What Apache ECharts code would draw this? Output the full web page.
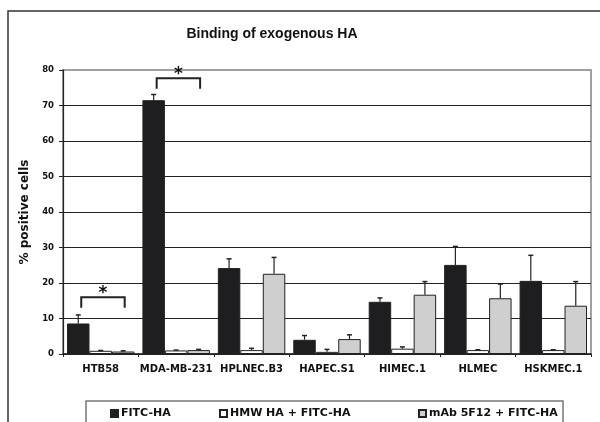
<!DOCTYPE html>
<html>
<head>
<meta charset="utf-8">
<script src="https://cdn.jsdelivr.net/npm/echarts@6/dist/echarts.min.js"></script>
<style>html,body{margin:0;padding:0;background:#fff;}#c{width:600px;height:422px;}</style>
</head>
<body>
<div id="c"></div>
<script>
var categories = ['HTB58', 'MDA-MB-231', 'HPLNEC.B3', 'HAPEC.S1', 'HIMEC.1', 'HLMEC', 'HSKMEC.1'];
var seriesNames = ['FITC-HA', 'HMW HA + FITC-HA', 'mAb 5F12 + FITC-HA'];
var fitc = [8.6, 71.5, 24.2, 4.0, 14.7, 25.1, 20.6];
var fitcSd = [2.4, 1.6, 2.6, 1.2, 1.1, 5.2, 7.2];
var hmw = [0.9, 1.0, 1.1, 0.6, 1.5, 1.1, 1.1];
var hmwSd = [0.1, 0.1, 0.5, 0.7, 0.5, 0.1, 0.1];
var mab = [0.7, 1.1, 22.6, 4.2, 16.7, 15.7, 13.6];
var mabSd = [0.2, 0.2, 4.6, 1.2, 3.7, 4.0, 6.8];
var brackets = [[0, 16.0], [1, 77.7]];
var yTicks = [0, 10, 20, 30, 40, 50, 60, 70, 80];

var GAP = 0.106;
var FONT = 'DejaVu Sans';

function errSeries(k, vals, sds) {
  return {
    type: 'custom',
    z: 5,
    silent: true,
    data: vals.map(function (v, i) { return [i, v, v + sds[i]]; }),
    renderItem: function (params, api) {
      var band = api.size([1, 0])[0];
      var bw = band * (1 - GAP) / 3;
      var base = api.coord([api.value(0), api.value(1)]);
      var top = api.coord([api.value(0), api.value(2)]);
      var x = base[0] + (k - 1) * bw;
      return {
        type: 'group',
        children: [
          { type: 'line', shape: { x1: x, y1: base[1], x2: x, y2: top[1] }, style: { stroke: '#222', lineWidth: 1.2 } },
          { type: 'line', shape: { x1: x - 2.5, y1: top[1], x2: x + 2.5, y2: top[1] }, style: { stroke: '#222', lineWidth: 1.5 } }
        ]
      };
    }
  };
}

var bracketSeries = {
  type: 'custom',
  z: 6,
  silent: true,
  data: brackets,
  renderItem: function (params, api) {
    var band = api.size([1, 0])[0];
    var bw = band * (1 - GAP) / 3;
    var p = api.coord([api.value(0), api.value(1)]);
    var x1 = p[0] - bw + 3, x2 = p[0] + bw + 1.5, y = p[1];
    return {
      type: 'group',
      children: [
        { type: 'polyline', shape: { points: [[x1, y + 10.5], [x1, y], [x2, y], [x2, y + 10.5]] }, style: { stroke: '#222', lineWidth: 2, fill: null } },
        { type: 'text', style: { text: '*', x: (x1 + x2) / 2, y: y + 5, align: 'center', verticalAlign: 'bottom', font: 'bold 17px "DejaVu Sans"', fill: '#111' } }
      ]
    };
  }
};

function barSeries(name, vals, color) {
  return {
    name: name,
    type: 'bar',
    data: vals,
    barGap: '0%',
    barCategoryGap: (GAP * 100) + '%',
    itemStyle: { color: color, borderColor: '#222', borderWidth: 1 },
    emphasis: { disabled: true }
  };
}

var legendBase = {
  top: 408, padding: 0, itemWidth: 7, itemHeight: 7,
  icon: 'rect', selectedMode: false,
  textStyle: { fontFamily: FONT, fontWeight: 'bold', fontSize: 11, color: '#111', padding: [0, 0, 0, -2] }
};

var chart = echarts.init(document.getElementById('c'), null, { renderer: 'canvas' });
chart.setOption({
  animation: false,
  backgroundColor: '#fff',
  title: {
    text: 'Binding of exogenous HA',
    left: 267, top: 22, textAlign: 'center',
    textStyle: { fontFamily: 'Liberation Sans', fontWeight: 'bold', fontSize: 14, color: '#111' }
  },
  grid: { left: 63, right: 9, top: 70, bottom: 68, show: true, borderColor: '#a0a0a0', borderWidth: 2, backgroundColor: 'transparent' },
  legend: [
    Object.assign({}, legendBase, { left: 110, data: [seriesNames[0]] }),
    Object.assign({}, legendBase, { left: 219, data: [seriesNames[1]] }),
    Object.assign({}, legendBase, { left: 418, data: [seriesNames[2]] })
  ],
  xAxis: {
    type: 'category',
    data: categories,
    axisLine: { lineStyle: { color: '#222', width: 1.5 } },
    axisTick: { show: true, length: 3, lineStyle: { color: '#222' } },
    axisLabel: { interval: 0, fontFamily: FONT, fontWeight: 'bold', fontSize: 10, color: '#111', margin: 10 }
  },
  yAxis: {
    type: 'value',
    min: yTicks[0], max: yTicks[yTicks.length - 1], interval: 10,
    name: '% positive cells',
    nameLocation: 'middle', nameRotate: 90, nameGap: 30,
    nameTextStyle: { fontFamily: FONT, fontWeight: 'bold', fontSize: 12, color: '#111' },
    axisLine: { show: true, lineStyle: { color: '#222', width: 1.2 } },
    axisTick: { show: true, length: 4, lineStyle: { color: '#222' } },
    axisLabel: { fontFamily: FONT, fontWeight: 'bold', fontSize: 8.5, color: '#111', margin: 9 },
    splitLine: { showMaxLine: false, lineStyle: { color: '#222', width: 1 } }
  },
  graphic: [
    { type: 'rect', shape: { x: 8, y: 11, width: 600, height: 420 }, style: { fill: null, stroke: '#333', lineWidth: 1.5 }, silent: true, z: -1 },
    { type: 'rect', shape: { x: 86, y: 401, width: 477, height: 40 }, style: { fill: null, stroke: '#777', lineWidth: 1.5 }, silent: true }
  ],
  series: [
    barSeries(seriesNames[0], fitc, '#1e1e20'),
    barSeries(seriesNames[1], hmw, '#ffffff'),
    barSeries(seriesNames[2], mab, '#cfcfcf'),
    errSeries(0, fitc, fitcSd),
    errSeries(1, hmw, hmwSd),
    errSeries(2, mab, mabSd),
    bracketSeries
  ]
});
</script>
</body>
</html>
